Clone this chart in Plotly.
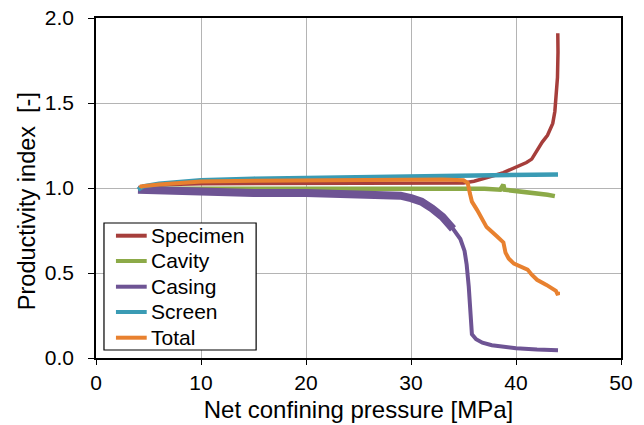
import plotly.graph_objects as go

# ---- data ----
specimen_x = [4.2, 4.4, 5, 7, 10, 15, 20, 25, 30, 35, 36, 37, 38, 38.8, 40, 41, 41.5, 42, 42.5, 43, 43.5, 43.7, 43.85, 43.95, 44.0, 43.98]
specimen_y = [0.99, 1.0, 1.01, 1.02, 1.025, 1.025, 1.025, 1.027, 1.028, 1.03, 1.04, 1.055, 1.075, 1.09, 1.12, 1.15, 1.17, 1.22, 1.27, 1.31, 1.38, 1.45, 1.55, 1.65, 1.8, 1.91]

cavity_x = [4.0, 6, 10, 20, 27, 32, 35, 36, 37, 38.5, 38.8, 38.9, 40, 41, 42, 43, 43.7]
cavity_y = [0.99, 0.995, 0.995, 0.995, 1.0, 1.0, 1.0, 0.998, 0.995, 0.99, 1.02, 0.99, 0.983, 0.975, 0.97, 0.96, 0.952]

casing_x = [4.0, 6, 8, 10, 15, 20, 25, 28, 29, 30, 31, 32, 33, 34]
casing_y = [0.99, 0.985, 0.98, 0.975, 0.97, 0.97, 0.968, 0.96, 0.955, 0.94, 0.92, 0.88, 0.83, 0.76]
casing_tail_x = [33.6, 34, 34.7, 35.1, 35.3, 35.5, 35.7, 35.8, 36.2, 36.8, 37.7, 40, 42, 44]
casing_tail_y = [0.795, 0.76, 0.70, 0.63, 0.55, 0.42, 0.20, 0.14, 0.11, 0.09, 0.075, 0.058, 0.05, 0.045]

screen_x = [4.0, 4.5, 6, 8, 10, 15, 20, 25, 30, 35, 40, 44]
screen_y = [0.99, 1.01, 1.025, 1.035, 1.045, 1.055, 1.06, 1.065, 1.068, 1.07, 1.075, 1.08]

total_x = [4.2, 4.3, 6, 8, 10, 15, 20, 25, 30, 33, 35, 35.4, 35.6, 35.8, 36.3, 37.2, 38.2, 38.8, 39.0, 39.3, 39.8, 40.5, 41.1, 41.5, 42.0, 42.9, 43.5, 43.8, 44.0, 44.0]
total_y = [1.0, 1.01, 1.02, 1.03, 1.038, 1.042, 1.045, 1.047, 1.05, 1.05, 1.045, 1.03, 0.97, 0.92, 0.87, 0.77, 0.715, 0.68, 0.62, 0.585, 0.555, 0.535, 0.52, 0.49, 0.46, 0.43, 0.41, 0.395, 0.37, 0.39]

series_names = ["Specimen", "Cavity", "Casing", "Screen", "Total"]
series_colors = ["#A63E3B", "#8CAA48", "#6E5494", "#3A9BB4", "#E8812F"]

x_ticks = [0, 10, 20, 30, 40, 50]
y_ticks = [0.0, 0.5, 1.0, 1.5, 2.0]
y_tick_labels = ["0.0", "0.5", "1.0", "1.5", "2.0"]

C_SPEC, C_CAV, C_CAS, C_SCR, C_TOT = series_colors
FONT = "Liberation Sans, Arial, sans-serif"

fig = go.Figure()
fig.add_trace(go.Scatter(x=specimen_x, y=specimen_y, mode="lines", name="Specimen",
                         line=dict(color=C_SPEC, width=3.5)))
fig.add_trace(go.Scatter(x=cavity_x, y=cavity_y, mode="lines", name="Cavity",
                         line=dict(color=C_CAV, width=4.5)))
fig.add_trace(go.Scatter(x=casing_x, y=casing_y, mode="lines", name="Casing",
                         line=dict(color=C_CAS, width=8)))
fig.add_trace(go.Scatter(x=casing_tail_x, y=casing_tail_y, mode="lines", name="Casing",
                         line=dict(color=C_CAS, width=4)))
fig.add_trace(go.Scatter(x=screen_x, y=screen_y, mode="lines", name="Screen",
                         line=dict(color=C_SCR, width=4.5)))
fig.add_trace(go.Scatter(x=total_x, y=total_y, mode="lines", name="Total",
                         line=dict(color=C_TOT, width=4)))

# ---- legend drawn as a framed box (paper coordinates) ----
leg_x0, leg_x1, leg_y0, leg_y1 = 0.0152, 0.305, 0.0235, 0.397
sample_x0, sample_x1, text_x = 0.038, 0.0966, 0.100
row_y = [0.3597, 0.2853, 0.2097, 0.1353, 0.0597]

shapes = [dict(type="rect", xref="paper", yref="paper", x0=leg_x0, x1=leg_x1, y0=leg_y0, y1=leg_y1,
               line=dict(color="black", width=1.2), fillcolor="white", layer="above")]
annotations = []
for name, col, ry in zip(series_names, series_colors, row_y):
    shapes.append(dict(type="line", xref="paper", yref="paper", x0=sample_x0, x1=sample_x1,
                       y0=ry, y1=ry, line=dict(color=col, width=4), layer="above"))
    annotations.append(dict(text=name, xref="paper", yref="paper", x=text_x, y=ry,
                            xanchor="left", yanchor="middle", showarrow=False,
                            font=dict(family=FONT, size=21, color="black")))

annotations.append(dict(text="Productivity index  [-]", xref="paper", yref="paper",
                        x=-0.131, y=0.462, xanchor="center", yanchor="middle", textangle=-90,
                        showarrow=False, font=dict(family=FONT, size=23.5, color="black")))

fig.update_layout(
    width=644, height=425,
    margin=dict(l=96, r=23, t=18, b=67, autoexpand=False),
    paper_bgcolor="white", plot_bgcolor="white",
    font=dict(family=FONT, size=21, color="black"),
    showlegend=False,
    shapes=shapes, annotations=annotations,
    xaxis=dict(range=[0, 50], tickvals=x_ticks, ticks="outside", ticklen=5, tickcolor="black",
               showline=True, linecolor="black", linewidth=1.5, mirror=True, automargin=False,
               showgrid=True, gridcolor="#B4B4B4", gridwidth=1.2, zeroline=False,
               tickfont=dict(size=21),
               title=dict(text="Net confining pressure [MPa]", font=dict(size=24), standoff=8)),
    yaxis=dict(range=[0, 2], tickvals=y_ticks, ticktext=y_tick_labels, ticks="outside", ticklen=6,
               tickcolor="black", showline=True, linecolor="black", linewidth=1.5, mirror=True,
               automargin=False,
               showgrid=True, gridcolor="#B4B4B4", gridwidth=1.2, zeroline=False,
               tickfont=dict(size=21), ticklabelstandoff=10),
)

fig.write_html("out.html")
